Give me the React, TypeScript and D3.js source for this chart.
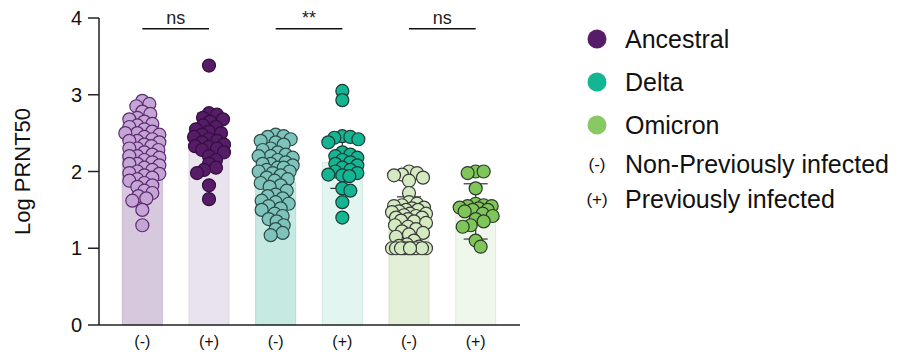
import React from 'react'
import { scaleLinear, scalePoint } from 'd3'

// Log PRNT50 per subject
const ancestralNeg = [2.92, 2.88, 2.85, 2.78, 2.75, 2.7, 2.68, 2.65, 2.62, 2.6, 2.58, 2.55, 2.52, 2.5, 2.5, 2.48, 2.45, 2.42, 2.4, 2.4, 2.38, 2.35, 2.33, 2.3, 2.3, 2.28, 2.25, 2.22, 2.2, 2.2, 2.18, 2.15, 2.12, 2.1, 2.1, 2.08, 2.05, 2.02, 2.0, 1.98, 1.97, 1.95, 1.92, 1.9, 1.88, 1.85, 1.82, 1.8, 1.75, 1.72, 1.68, 1.65, 1.62, 1.5, 1.3]
const ancestralPos = [3.38, 2.76, 2.74, 2.7, 2.68, 2.65, 2.6, 2.58, 2.55, 2.52, 2.5, 2.48, 2.45, 2.42, 2.4, 2.38, 2.35, 2.33, 2.32, 2.3, 2.28, 2.25, 2.2, 2.15, 2.1, 2.05, 2.02, 1.98, 1.82, 1.64]
const deltaNeg = [2.48, 2.46, 2.45, 2.42, 2.4, 2.38, 2.35, 2.3, 2.28, 2.25, 2.22, 2.2, 2.2, 2.18, 2.15, 2.12, 2.1, 2.1, 2.08, 2.05, 2.05, 2.02, 2.0, 2.0, 1.98, 1.95, 1.92, 1.9, 1.88, 1.85, 1.82, 1.8, 1.75, 1.7, 1.68, 1.65, 1.62, 1.6, 1.58, 1.55, 1.52, 1.5, 1.45, 1.42, 1.38, 1.35, 1.3, 1.25, 1.2, 1.17]
const deltaPos = [3.05, 2.93, 2.46, 2.45, 2.44, 2.42, 2.38, 2.25, 2.22, 2.2, 2.18, 2.15, 2.12, 2.1, 2.08, 2.05, 2.02, 2.0, 1.98, 1.96, 1.95, 1.94, 1.78, 1.75, 1.6, 1.4]
const omicronNeg = [2.0, 1.98, 1.96, 1.95, 1.92, 1.88, 1.72, 1.6, 1.58, 1.56, 1.55, 1.53, 1.52, 1.5, 1.5, 1.48, 1.47, 1.45, 1.45, 1.43, 1.42, 1.4, 1.4, 1.38, 1.36, 1.35, 1.33, 1.3, 1.28, 1.25, 1.22, 1.2, 1.18, 1.15, 1.1, 1.05, 1.03, 1.02, 1.0, 1.0, 1.0, 1.0, 1.0, 1.0, 1.0, 1.0, 1.0, 1.0]
const omicronPos = [2.0, 2.0, 1.98, 1.78, 1.58, 1.56, 1.55, 1.55, 1.53, 1.52, 1.5, 1.5, 1.48, 1.45, 1.42, 1.38, 1.35, 1.3, 1.28, 1.1, 1.02]

const groups = ['A-', 'A+', 'D-', 'D+', 'O-', 'O+']
const groupLabels = ['(-)', '(+)', '(-)', '(+)', '(-)', '(+)']
const barMeans = [2.21, 2.39, 1.86, 2.12, 1.41, 1.48]
const barSD = [0.33, 0.37, 0.32, 0.34, 0.26, 0.36]
const yTicks = [0, 1, 2, 3, 4]

const comparisons = [
  { from: 'A-', to: 'A+', label: 'ns' },
  { from: 'D-', to: 'D+', label: '**' },
  { from: 'O-', to: 'O+', label: 'ns' },
]

const legendVariants = ['Ancestral', 'Delta', 'Omicron']
const legendSigns = [
  { sign: '(-)', text: 'Non-Previously infected' },
  { sign: '(+)', text: 'Previously infected' },
]

const allValues = [ancestralNeg, ancestralPos, deltaNeg, deltaPos, omicronNeg, omicronPos]
const dotFill = ['#c4a6d4', '#561c68', '#7ec4bc', '#13b592', '#d4ebc1', '#7fc65a']
const dotStroke = ['#5e2a74', '#32103e', '#2c4a46', '#1d3a33', '#3a3a3a', '#2e3a28']
const barFill = ['#d6c8dd', '#e9e3ed', '#c6eae2', '#e3f5f0', '#e4efda', '#eff6eb']
const barStroke = ['#cbbad3', '#ddd5e2', '#b4dbd2', '#d2e9e3', '#d5e3c8', '#e0ebdb']
const legendColors = ['#561c68', '#13b592', '#88c964']

const W = 902
const H = 354
const R = 6.5
const font = '"Liberation Sans", Arial, sans-serif'

const x = scalePoint<string>().domain(groups).range([109, 509]).padding(0.5)
const y = scaleLinear().domain([0, 4]).range([325, 18])

// simple beeswarm: put each dot as close to the centre as spacing allows
function swarm(values: number[]) {
  const order = values.map((v, i) => i).sort((a, b) => values[b] - values[a])
  const placed: { dx: number; py: number }[] = []
  const out: number[] = new Array(values.length).fill(0)
  const minDist = 7.5
  const cands: number[] = [0]
  for (let s = 1; s <= 17; s++) cands.push(s, -s)
  order.forEach(i => {
    const py = y(values[i])
    let best = 0
    let bestD = -1
    for (const dx of cands) {
      let d = Infinity
      for (const p of placed) {
        const dd = Math.hypot(p.dx - dx, p.py - py)
        if (dd < d) d = dd
      }
      if (d >= minDist) { best = dx; bestD = d; break }
      if (d > bestD) { bestD = d; best = dx }
    }
    placed.push({ dx: best, py })
    out[i] = best
  })
  return out
}

export default function App() {
  const bw = 40
  return (
    <svg width={W} height={H} style={{ position: 'absolute', left: 0, top: 0, background: '#fff' }} fontFamily={font}>
      {/* bars */}
      {groups.map((g, i) => (
        <rect key={g} x={x(g)! - bw / 2} y={y(barMeans[i])} width={bw} height={y(0) - y(barMeans[i])}
          fill={barFill[i]} stroke={barStroke[i]} strokeWidth={1} />
      ))}
      {/* error bars */}
      {groups.map((g, i) => {
        const cx = x(g)!
        const lo = y(barMeans[i] - barSD[i])
        const hi = y(barMeans[i] + barSD[i])
        return (
          <g key={g} stroke="#333" strokeWidth={1.2}>
            <line x1={cx} x2={cx} y1={lo} y2={hi} />
            <line x1={cx - 12} x2={cx + 12} y1={lo} y2={lo} />
            <line x1={cx - 12} x2={cx + 12} y1={hi} y2={hi} />
          </g>
        )
      })}
      {/* dots */}
      {groups.map((g, gi) => {
        const vals = allValues[gi]
        const offs = swarm(vals)
        return (
          <g key={g}>
            {vals.map((v, i) => (
              <circle key={i} cx={x(g)! + offs[i]} cy={y(v)} r={R}
                fill={dotFill[gi]} stroke={dotStroke[gi]} strokeWidth={1.2} />
            ))}
          </g>
        )
      })}
      {/* axes */}
      <g stroke="#222" strokeWidth={1.5} fill="none">
        <line x1={99} x2={99} y1={y(4)} y2={y(0)} />
        <line x1={99} x2={520} y1={y(0)} y2={y(0)} />
        {yTicks.map(t => <line key={t} x1={88} x2={99} y1={y(t)} y2={y(t)} />)}
      </g>
      {yTicks.map(t => (
        <text key={t} x={82} y={y(t)} dy="0.36em" textAnchor="end" fontSize={20} fill="#111">{t}</text>
      ))}
      {groups.map((g, i) => (
        <text key={g} x={x(g)!} y={347} textAnchor="middle" fontSize={16} fill="#111">{groupLabels[i]}</text>
      ))}
      <text transform={`translate(30,${y(2)}) rotate(-90)`} textAnchor="middle" fontSize={22} fill="#111">Log PRNT50</text>
      {/* significance */}
      {comparisons.map(c => {
        const x1 = x(c.from)!
        const x2 = x(c.to)!
        const ly = y(3.86)
        return (
          <g key={c.from}>
            <line x1={x1} x2={x2} y1={ly} y2={ly} stroke="#111" strokeWidth={1.3} />
            <text x={(x1 + x2) / 2} y={ly - 5} textAnchor="middle" fontSize={18} fill="#222">{c.label}</text>
          </g>
        )
      })}
      {/* legend */}
      {legendVariants.map((name, i) => (
        <g key={name} transform={`translate(0,${39 + i * 43})`}>
          <circle cx={597} cy={0} r={9.5} fill={legendColors[i]} />
          <text x={625} y={9} fontSize={25} fill="#111">{name}</text>
        </g>
      ))}
      {legendSigns.map((s, i) => (
        <g key={s.sign} transform={`translate(0,${173 + i * 35})`}>
          <text x={597} y={-3} textAnchor="middle" fontSize={17} fill="#111">{s.sign}</text>
          <text x={625} y={0} fontSize={25} fill="#111">{s.text}</text>
        </g>
      ))}
    </svg>
  )
}
